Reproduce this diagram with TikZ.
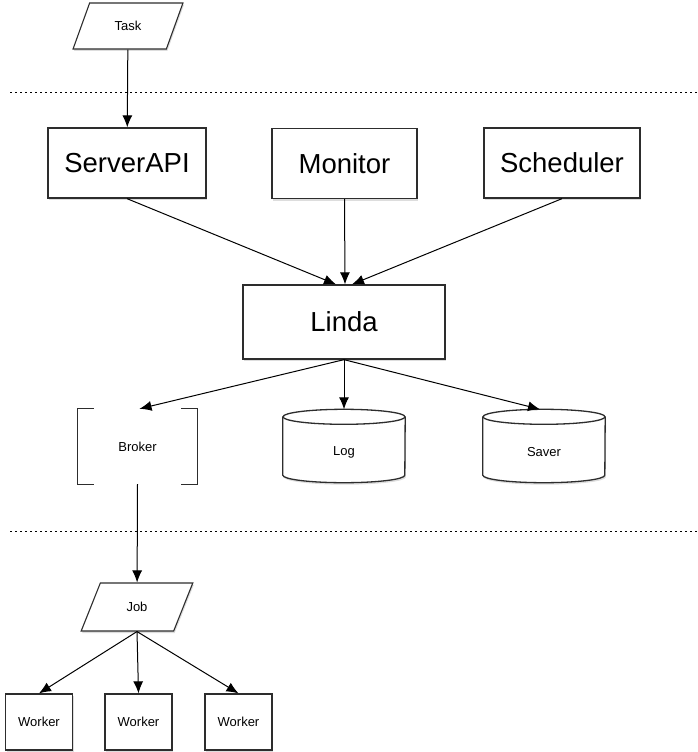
\documentclass[tikz,border=0pt]{standalone}
\usepackage{fontspec}
\setmainfont{Liberation Sans}
\usetikzlibrary{shapes.geometric,arrows.meta,shadows}

\definecolor{edge}{RGB}{45,45,45}

\tikzset{
  shade/.style={drop shadow={shadow xshift=1pt,shadow yshift=-2pt,opacity=0.22,fill=black!60}},
  bigbox/.style={draw=edge,line width=1.3pt,fill=white,shade,minimum width=158pt,minimum height=70pt,font=\fontsize{27.5}{30}\selectfont},
  smallbox/.style={draw=edge,line width=1.3pt,fill=white,shade,minimum width=67pt,minimum height=56pt,font=\fontsize{13}{15}\selectfont},
  slanted/.style={trapezium,trapezium stretches=true,trapezium left angle=66,trapezium right angle=114,draw=edge,line width=1.1pt,fill=white,shade,font=\fontsize{13}{15}\selectfont},
  store/.style={minimum width=122pt,minimum height=73pt,font=\fontsize{13}{15}\selectfont},
  wall/.style={draw=edge,line width=1.3pt},
  arr/.style={-{Latex[length=12pt,width=10pt]},line width=1pt},
  sep/.style={line width=1pt,dash pattern=on 1.5pt off 3.5pt}
}

\begin{document}
\begin{tikzpicture}[x=1pt,y=-1pt]
        \useasboundingbox (0,0) rectangle (698,752);

        %Separators
        \draw[sep] (10,92) -- (698,92);
        \draw[sep] (10,531) -- (698,531);

        %Input
        \node[slanted,minimum width=110pt,minimum height=46pt] (task) at (128,26) {Task};

        %Server side
        \node[bigbox] (serverapi) at (127,163) {ServerAPI};
        \node[bigbox,minimum width=145pt] (monitor) at (344.5,163.5) {Monitor};
        \node[bigbox,minimum width=156pt] (scheduler) at (562,163) {Scheduler};
        \node[bigbox,minimum width=202pt,minimum height=74pt] (linda) at (344,322) {Linda};

        %Broker (bracket shape)
        \node[minimum width=119pt,minimum height=75pt,font=\fontsize{13}{15}\selectfont] (broker) at (137.5,446.5) {Broker};
        \draw[wall] ([xshift=16pt]broker.north west) -- (broker.north west) -- (broker.south west) -- ([xshift=16pt]broker.south west);
        \draw[wall] ([xshift=-16pt]broker.north east) -- (broker.north east) -- (broker.south east) -- ([xshift=-16pt]broker.south east);

        %Storage cylinders
        \node[store] (log) at (344,446) {};
        \node[store] (saver) at (544,446) {};
        \foreach \s in {log,saver}{
          \draw[wall,fill=white,shade] ([yshift=-7.5pt]\s.north west) -- ([yshift=7.5pt]\s.south west)
            arc[start angle=180,end angle=360,x radius=61pt,y radius=7.5pt]
            -- ([yshift=-7.5pt]\s.north east);
          \draw[wall,fill=white] ([yshift=-7.5pt]\s.north) ellipse[x radius=61pt,y radius=7.5pt];
        }
        \node[font=\fontsize{13}{15}\selectfont] at ([yshift=-6pt]log.center) {Log};
        \node[font=\fontsize{13}{15}\selectfont] at ([yshift=-6pt]saver.center) {Saver};

        %Worker side
        \node[slanted,minimum width=112pt,minimum height=48pt] (job) at (137,607) {Job};
        \node[smallbox] (worker1) at (39,722) {Worker};
        \node[smallbox] (worker2) at (138.5,722) {Worker};
        \node[smallbox] (worker3) at (238.5,722) {Worker};

        %Connectors
        \draw[arr] (task) -- (serverapi);
        \draw[arr] (serverapi.south) -- ([xshift=-8pt]linda.north);
        \draw[arr] (monitor.south) -- ([xshift=1pt]linda.north);
        \draw[arr] (scheduler.south) -- ([xshift=8pt]linda.north);
        \draw[arr] (linda.south) -- ([xshift=2pt]broker.north);
        \draw[arr] (linda.south) -- (log.north);
        \draw[arr] (linda.south) -- ([xshift=-4pt]saver.north);
        \draw[arr] (broker.south) -- (job);
        \draw[arr] (job.south) -- (worker1.north);
        \draw[arr] (job.south) -- (worker2.north);
        \draw[arr] (job.south) -- (worker3.north);

\end{tikzpicture}
\end{document}
